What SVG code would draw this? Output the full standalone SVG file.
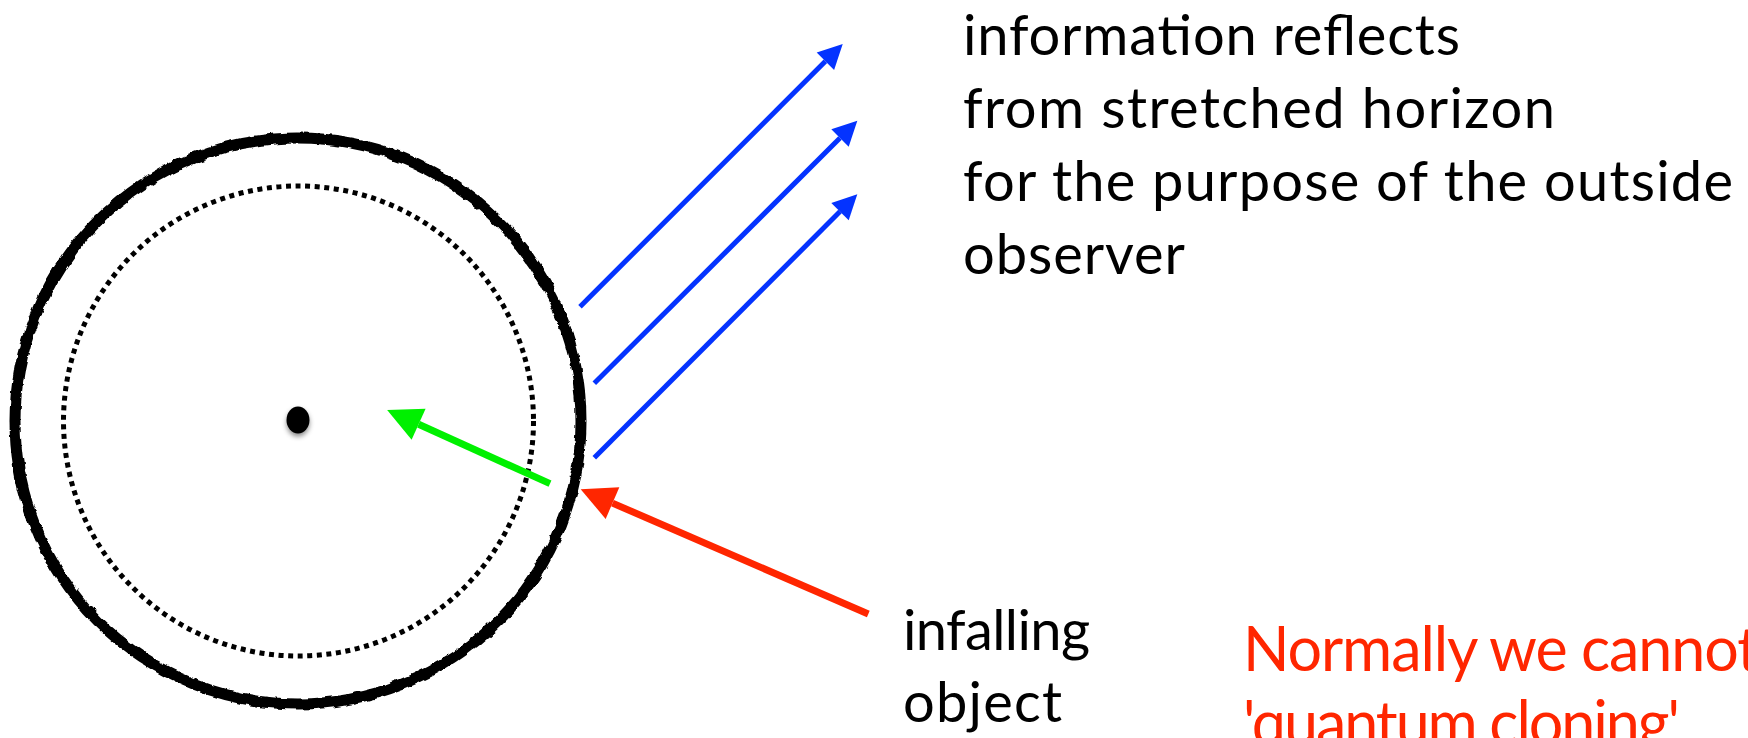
<svg xmlns="http://www.w3.org/2000/svg" width="1748" height="738" viewBox="0 0 1748 738">
<style>
.lbl{font-family:Lato,"Open Sans","Liberation Sans",sans-serif;font-size:56px;fill:#000}
.red{font-family:Lato,"Open Sans","Liberation Sans",sans-serif;font-size:61px;fill:#FF2600}
.blue{stroke:#0433FF;stroke-width:5;fill:none}
.green{stroke:#00F000;stroke-width:7;fill:none}
.redl{stroke:#FF2600;stroke-width:7;fill:none}
</style>
<defs>
<filter id="rough" x="-10%" y="-10%" width="120%" height="120%">
<feTurbulence type="fractalNoise" baseFrequency="0.09" numOctaves="3" seed="4" result="n"/>
<feDisplacementMap in="SourceGraphic" in2="n" scale="5" xChannelSelector="R" yChannelSelector="G"/>
</filter>
<filter id="shadow" x="-100%" y="-100%" width="300%" height="300%">
<feDropShadow dx="0" dy="3" stdDeviation="2.5" flood-color="#000" flood-opacity="0.45"/>
</filter>
<marker id="hb" markerUnits="userSpaceOnUse" orient="auto" refX="0" refY="0" markerWidth="30" markerHeight="30" overflow="visible">
<path d="M0,-12.3 L24.5,0 L0,12.3 Z" fill="#0433FF"/>
</marker>
<marker id="hg" markerUnits="userSpaceOnUse" orient="auto" refX="0" refY="0" markerWidth="40" markerHeight="40" overflow="visible">
<path d="M0,-17 L34.5,0 L0,17 Z" fill="#00F000"/>
</marker>
<marker id="hr" markerUnits="userSpaceOnUse" orient="auto" refX="0" refY="0" markerWidth="40" markerHeight="40" overflow="visible">
<path d="M0,-17.2 L34.7,0 L0,17.2 Z" fill="#FF2600"/>
</marker>
</defs>
<rect width="1748" height="738" fill="#fff"/>
<g id="black-hole">
<circle id="stretched-horizon" cx="298" cy="421" r="283" fill="none" stroke="#000" stroke-width="11" filter="url(#rough)"/>
<circle id="horizon" cx="298.5" cy="421" r="235" fill="none" stroke="#000" stroke-width="5" stroke-dasharray="5 4.6"/>
<ellipse id="singularity" cx="298" cy="420" rx="11.5" ry="13.5" fill="#000" filter="url(#shadow)"/>
</g>
<g id="connectors">
<line class="blue" x1="580" y1="306.7" x2="825.4" y2="61.3" marker-end="url(#hb)"/>
<line class="blue" x1="594.3" y1="383.3" x2="840" y2="138" marker-end="url(#hb)"/>
<line class="blue" x1="594.3" y1="457.7" x2="840" y2="211.6" marker-end="url(#hb)"/>
<line class="green" x1="550" y1="483.6" x2="418.6" y2="424.3" marker-end="url(#hg)"/>
<line class="redl" x1="868.3" y1="614" x2="612.5" y2="503.1" marker-end="url(#hr)"/>
</g>
<g id="label-reflects">
<text class="lbl" x="963" y="55" textLength="497">information reflects</text>
<text class="lbl" x="963" y="128" textLength="592">from stretched horizon</text>
<text class="lbl" x="963" y="201" textLength="770">for the purpose of the outside</text>
<text class="lbl" x="963" y="274" textLength="222">observer</text>
</g>
<g id="label-infalling">
<text class="lbl" x="903" y="650" textLength="187">infalling</text>
<text class="lbl" x="903" y="722" textLength="159">object</text>
</g>
<g id="label-cloning">
<text class="red" x="1243" y="671" textLength="516">Normally we cannot</text>
<text class="red" x="1243" y="745" textLength="437">'quantum cloning'</text>
</g>
</svg>
